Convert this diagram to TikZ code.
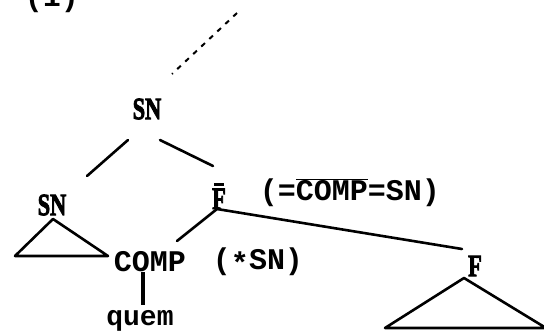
\documentclass[tikz,border=0pt]{standalone}
\usepackage{fontspec}
\setmainfont{Liberation Serif}
\setmonofont{Liberation Mono}
\newfontfamily\catfont[FakeBold=3]{Liberation Serif Bold}
\begin{document}
\begin{tikzpicture}[x=1pt,y=-1pt,
  branch/.style={line width=2.6pt, line cap=round},
  lbl/.style={inner sep=0pt, font=\ttfamily\bfseries\fontsize{30}{30}\selectfont},
  cat/.style={inner sep=0pt, font=\catfont\fontsize{31}{31}\selectfont},
  word/.style={inner sep=0pt, font=\ttfamily\bfseries\fontsize{28}{28}\selectfont}]
\useasboundingbox (0,0) rectangle (544,333);

% example number
\node[lbl, anchor=base] (num) at (52,6) {(1)};

% dotted continuation above the tree
\coordinate (dotTop) at (237,13);
\coordinate (dotBot) at (172,74);
\draw[line width=2pt, dash pattern=on 5pt off 6pt] (dotTop) -- (dotBot);

% nodes
\node[cat] (snTop) at (147,109) {\scalebox{0.72}[1]{SN}};
\node[cat] (snL) at (52,205) {\scalebox{0.72}[1]{SN}};
\node[cat, anchor=base] (fbar) at (219,209) {\scalebox{0.72}[1]{F}};
\draw[line width=2.4pt] ([xshift=-5pt,yshift=4pt]fbar.north) -- ([xshift=5pt,yshift=4pt]fbar.north);
\node[lbl] (fbarNote) at (350,193) {(=$\overline{\hbox{COMP}}$=SN)};
\node[lbl] (comp) at (150,262) {COMP};
\node[lbl] (compNote) at (258,262) {(\raisebox{-0.12em}{*}SN)};
\node[word] (quem) at (140,321) {quem};
\node[cat] (fR) at (475,266) {\scalebox{0.72}[1]{F}};

% branch end points
\coordinate (snTopL) at (128,140);
\coordinate (snLTop) at (87,176);
\coordinate (snTopR) at (160,140);
\coordinate (fbarTop) at (213,166);
\coordinate (fbarFoot) at (217,209);
\coordinate (compTop) at (177,241);
\coordinate (fTop) at (462,249);
\coordinate (compFoot) at (143,272);
\coordinate (quemTop) at (143,305);

% branches
\draw[branch] (snTopL) -- (snLTop);
\draw[branch] (snTopR) -- (fbarTop);
\draw[branch] (fbarFoot) -- (compTop);
\draw[branch] (fbarFoot) -- (fTop);
\draw[line width=4pt] (compFoot) -- (quemTop);

% triangles
\coordinate (triLApex) at (53,219);
\coordinate (triLLeft) at (15,256);
\coordinate (triLRight) at (108,256);
\draw[branch, line join=round] (triLApex) -- (triLLeft) -- (triLRight) -- cycle;

\coordinate (triRApex) at (464,278);
\coordinate (triRLeft) at (385,328);
\coordinate (triRRight) at (546,328);
\draw[branch, line join=round] (triRApex) -- (triRLeft) -- (triRRight) -- cycle;
\end{tikzpicture}
\end{document}
